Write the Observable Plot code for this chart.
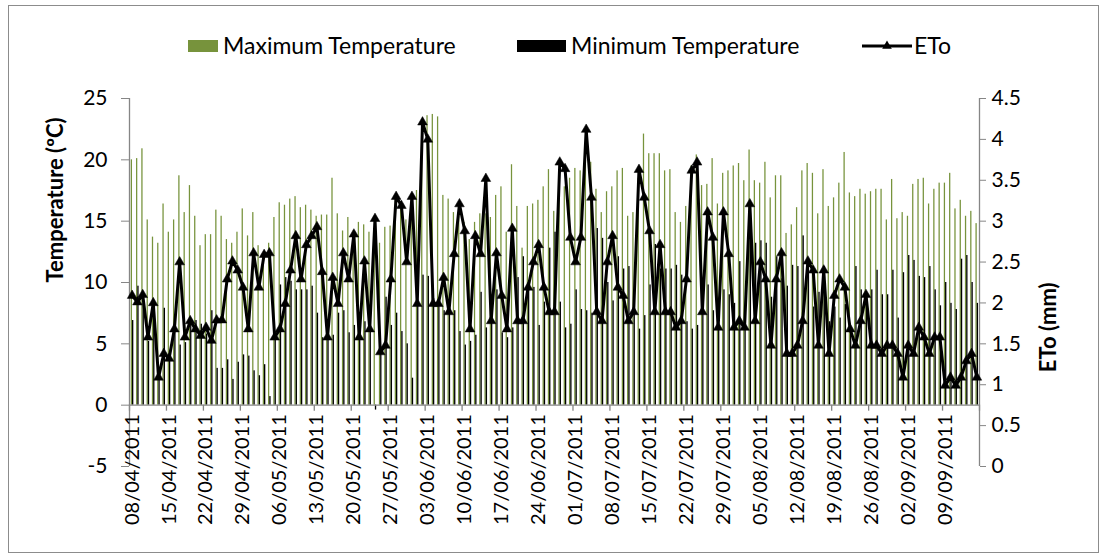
<!DOCTYPE html>
<html><head><meta charset="utf-8">
<script src="https://cdn.jsdelivr.net/npm/d3@7"></script>
<script src="https://cdn.jsdelivr.net/npm/@observablehq/plot@0.6"></script>
<style>
body{margin:0;background:#fff;font-family:Lato,sans-serif;}
#wrap{position:relative;width:1104px;height:558px;overflow:hidden;background:#fff;}
#frame{position:absolute;left:8px;top:5px;width:1089px;height:546px;border:1px solid #8c8c8c;pointer-events:none;}
#legend{position:absolute;left:0;top:0;width:1104px;height:80px;font-family:Lato,sans-serif;font-size:23px;color:#000;}
.item{position:absolute;top:31px;height:28px;line-height:28px;white-space:nowrap;}
.sw{display:inline-block;vertical-align:middle;height:12px;margin-right:5px;position:relative;top:-2px;}
#chart{position:absolute;left:0;top:80px;}
</style></head>
<body><div id="wrap"><div id="legend"></div><div id="chart"></div><div id="frame"></div></div>
<script>
const startDate = new Date(Date.UTC(2011, 3, 8));
const seriesNames = ["Maximum Temperature", "Minimum Temperature", "ETo"];
const maxTemp = [
 20.0,20.1,20.9,15.1,13.7,13.2,16.4,14.1,15.1,18.7,15.7,17.9,15.4,13.0,13.9,13.9,
 15.9,15.4,13.5,13.2,14.1,16.0,13.8,15.7,13.0,12.4,13.2,15.3,16.5,16.3,16.8,17.0,
 16.1,16.3,15.9,15.4,15.5,15.5,18.5,15.6,14.2,15.3,14.2,14.9,14.7,14.1,13.3,13.2,
 14.5,14.6,17.0,16.6,15.1,16.7,17.5,21.0,23.6,23.7,23.5,17.1,16.8,15.7,16.3,14.9,
 13.5,14.9,15.6,15.6,15.3,17.1,17.8,14.1,19.6,16.2,12.8,16.2,16.4,16.7,17.8,19.2,
 15.8,19.0,17.8,18.5,19.3,19.1,20.0,19.8,17.6,15.7,17.4,17.8,19.1,19.3,15.4,15.7,
 18.5,22.1,20.5,20.5,20.5,19.1,19.2,15.7,14.9,16.2,19.5,20.4,17.9,18.0,20.1,16.4,
 18.9,19.1,19.5,19.7,18.3,20.8,18.3,18.1,19.8,16.9,18.7,18.7,14.0,14.7,16.1,19.1,
 19.7,18.9,15.6,19.2,16.2,16.9,18.1,20.6,17.3,17.0,17.6,17.2,17.4,17.6,17.6,15.1,
 18.4,15.2,15.7,15.4,18.0,18.4,18.5,16.4,17.6,18.1,18.1,18.9,16.0,16.7,15.4,15.8,14.8];
const minTemp = [
 6.9,9.7,8.3,5.2,8.0,2.3,7.9,3.7,6.6,4.9,5.1,6.9,6.9,6.6,5.8,7.7,
 3.0,3.0,3.7,2.1,3.5,4.1,4.0,2.8,2.4,3.3,0.7,5.7,9.8,10.4,10.1,9.4,
 9.4,9.4,9.7,7.5,5.5,5.7,5.7,7.5,7.7,5.9,6.5,6.9,6.8,6.4,-0.4,4.8,
 8.8,6.5,7.5,6.0,5.0,2.2,8.3,10.6,10.5,8.7,8.3,7.7,7.7,7.7,6.0,4.9,
 5.2,5.7,9.2,6.3,6.9,9.4,5.9,5.5,6.3,10.4,12.1,9.6,9.6,6.5,8.4,12.8,
 14.1,8.4,6.3,6.6,9.4,7.8,7.7,7.5,14.4,13.6,10.0,8.5,12.1,11.1,11.3,7.5,
 6.2,7.3,9.8,13.1,11.1,11.1,11.1,11.4,10.6,6.8,6.2,6.5,8.3,9.8,7.7,6.1,
 9.4,9.0,8.3,11.7,8.0,13.9,13.2,13.4,13.2,8.8,12.1,10.3,9.7,11.4,11.3,13.8,
 11.8,8.0,9.2,11.3,6.8,8.0,7.1,8.2,6.3,11.3,9.4,9.1,9.4,11.0,9.0,9.0,
 11.0,7.1,10.8,12.2,11.8,10.5,10.4,11.3,9.4,8.1,10.0,8.3,7.8,11.9,12.2,10.0,8.3];
const eto = [
 2.09,2.01,2.10,1.58,2.00,1.09,1.38,1.32,1.68,2.50,1.58,1.78,1.68,1.60,1.70,1.54,
 1.79,1.79,2.29,2.51,2.40,2.19,1.68,2.61,2.19,2.59,2.61,1.58,1.68,1.99,2.40,2.82,
 2.29,2.71,2.82,2.93,2.38,1.58,2.31,1.99,2.61,2.29,2.84,1.58,2.51,1.68,3.03,1.40,
 1.48,2.29,3.30,3.19,2.50,3.30,1.99,4.21,4.00,1.99,1.99,2.31,1.89,2.60,3.21,2.88,
 1.68,2.82,2.60,3.52,1.78,2.61,2.09,1.68,2.91,1.78,1.78,2.19,2.50,2.71,2.19,1.89,
 1.89,3.72,3.64,2.80,2.50,2.80,4.12,3.29,1.89,1.78,2.50,2.82,2.19,2.09,1.78,1.89,
 3.63,3.29,2.88,1.89,2.71,1.89,1.89,1.70,1.78,2.29,3.62,3.72,1.89,3.11,2.80,1.70,
 3.11,2.60,1.70,1.78,1.70,3.21,1.78,2.50,2.29,1.48,2.29,2.61,1.38,1.38,1.48,1.78,
 2.51,2.40,1.48,2.40,1.38,2.09,2.29,2.19,1.68,1.48,1.78,2.10,1.48,1.48,1.38,1.48,
 1.48,1.38,1.09,1.48,1.38,1.70,1.58,1.38,1.58,1.58,0.99,1.09,0.99,1.09,1.29,1.38,1.09];
const tempTicks = [-5, 0, 5, 10, 15, 20, 25];
const etoTicks = [0, 0.5, 1, 1.5, 2, 2.5, 3, 3.5, 4, 4.5];
const tempDomain = [-5, 25];
const etoDomain = [0, 4.5];
const dateStep = 7;

const nDays = maxTemp.length;
const data = d3.range(nDays).map(i => ({
  day: i, date: d3.utcDay.offset(startDate, i), max: maxTemp[i], min: minTemp[i], eto: eto[i]
}));
// ETo is drawn against the secondary (right) axis: map its domain onto the temperature scale
const etoToT = e => tempDomain[0] + (e - etoDomain[0]) * (tempDomain[1] - tempDomain[0]) / (etoDomain[1] - etoDomain[0]);
const tToEto = t => (t - tempDomain[0]) * (etoDomain[1] - etoDomain[0]) / (tempDomain[1] - tempDomain[0]) + etoDomain[0];
const fmtDate = d3.utcFormat("%d/%m/%Y");
const labelDays = d3.range(0, nDays - 1, dateStep);
const tickDays = d3.range(0, nDays + 1, dateStep);

const W = 1104, H = 478, mt = 18, mb = 92, ml = 129, mr = 125;
const pxPerDeg = (H - mt - mb) / (tempDomain[1] - tempDomain[0]);
const tickLen = 6 / pxPerDeg;
const axisGray = "#868686";
const green = "#77933C";

const chart = Plot.plot({
  width: W, height: H, marginTop: mt, marginBottom: mb, marginLeft: ml, marginRight: mr,
  x: {domain: [0, nDays], axis: null},
  y: {domain: tempDomain, axis: null},
  style: {fontFamily: "Lato, sans-serif", fontSize: "20px", color: "#000", background: "#fff", overflow: "visible"},
  marks: [
    Plot.rectY(data, {x1: d => d.day + 0.33, x2: d => d.day + 0.57, y1: 0, y2: "max", fill: green}),
    Plot.rectY(data, {x1: d => d.day + 0.57, x2: d => d.day + 0.82, y1: 0, y2: "min", fill: "#000"}),
    Plot.ruleY([0], {x1: 0, x2: nDays, stroke: axisGray, strokeWidth: 1.3}),
    Plot.ruleX([0, nDays], {y1: tempDomain[0], y2: tempDomain[1], stroke: axisGray, strokeWidth: 1.3}),
    Plot.ruleX(tickDays, {y1: 0, y2: -tickLen, stroke: axisGray, strokeWidth: 1.3}),
    Plot.axisY({anchor: "left", ticks: tempTicks, tickSize: 8, tickPadding: 14, stroke: axisGray, fill: "#000", fontSize: 21, label: null,
      tickFormat: t => String(t)}),
    Plot.axisY({anchor: "right", ticks: etoTicks.map(etoToT), tickSize: 6, tickPadding: 6, stroke: axisGray, fill: "#000", fontSize: 21, label: null,
      tickFormat: t => String(Math.round(tToEto(t) * 10) / 10)}),
    Plot.text(labelDays, {x: d => d + 0.5, y: 0, text: d => fmtDate(data[d].date), rotate: -90, textAnchor: "end", dy: 9, fontSize: 20, fill: "#000"}),
    Plot.line(data, {x: d => d.day + 0.5, y: d => etoToT(d.eto), stroke: "#000", strokeWidth: 3, strokeLinejoin: "miter"}),
    Plot.dot(data, {x: d => d.day + 0.5, y: d => etoToT(d.eto), symbol: "triangle", r: 3.6, fill: "#000", stroke: "#000", strokeWidth: 0.5}),
    Plot.text(["Temperature (ºC)"], {frameAnchor: "left", rotate: -90, dx: -74, fontWeight: "bold", fontSize: 22, fill: "#000"}),
    Plot.text(["ETo (mm)"], {frameAnchor: "right", rotate: -90, dx: 69, fontWeight: "bold", fontSize: 22, fill: "#000"})
  ]
});
document.getElementById("chart").appendChild(chart);

// legend
const legend = document.getElementById("legend");
const items = [
  {name: seriesNames[0], left: 188, sw: `<span class="sw" style="width:30px;background:${green}"></span>`},
  {name: seriesNames[1], left: 517, sw: `<span class="sw" style="width:49px;background:#000"></span>`},
  {name: seriesNames[2], left: 862, sw: `<svg width="50" height="14" style="vertical-align:middle;position:relative;top:-2px;margin-right:2px"><line x1="0" y1="7" x2="50" y2="7" stroke="#000" stroke-width="3"/><path d="${d3.symbol(d3.symbolTriangle, 40)()}" transform="translate(25,7)" fill="#000"/></svg>`}
];
for (const it of items) {
  const div = document.createElement("div");
  div.className = "item";
  div.style.left = it.left + "px";
  div.innerHTML = it.sw + `<span>${it.name}</span>`;
  legend.appendChild(div);
}
</script></body></html>
